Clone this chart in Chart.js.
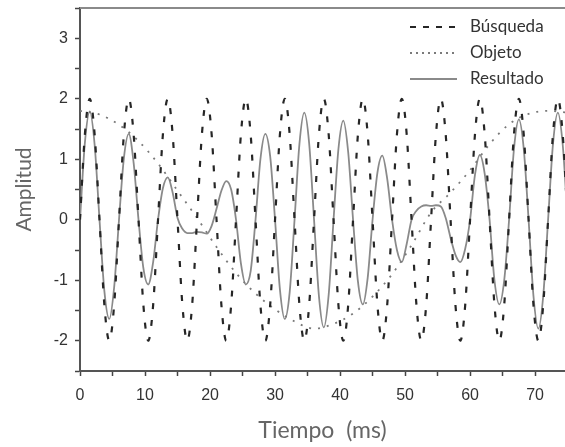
<!DOCTYPE html>
<html><head><meta charset="utf-8">
<script src="https://cdn.jsdelivr.net/npm/chart.js@4.4.1/dist/chart.umd.min.js"></script>
<style>html,body{margin:0;padding:0;background:#fff;}#wrap{width:565px;height:447px;}</style>
</head><body><div id="wrap"><canvas id="c" width="565" height="447"></canvas></div>
<script>
// ---- data ----
const tiempo = [0,0.75,1.5,2.25,3,3.75,4.5,5.25,6,6.75,7.5,8.25,9,9.75,10.5,11.25,12,12.75,13.5,14.25,
  15,15.75,16.5,17.25,18,18.75,19.5,20.25,21,21.75,22.5,23.25,24,24.75,25.5,26.25,27,27.75,28.5,29.25,
  30,30.75,31.5,32.25,33,33.75,34.5,35.25,36,36.75,37.5,38.25,39,39.75,40.5,41.25,42,42.75,43.5,44.25,
  45,45.75,46.5,47.25,48,48.75,49.5,50.25,51,51.75,52.5,53.25,54,54.75,55.5,56.25,57,57.75,58.5,59.25,
  60,60.75,61.5,62.25,63,63.75,64.5,65.25,66,66.75,67.5,68.25,69,69.75,70.5,71.25,72,72.75,73.5,74.25,75];
const busqueda = [0,1.41,2,1.41,0,-1.41,-2,-1.41, 0,1.41,2,1.41,0,-1.41,-2,-1.41,
  0,1.41,2,1.41,0,-1.41,-2,-1.41, 0,1.41,2,1.41,0,-1.41,-2,-1.41,
  0,1.41,2,1.41,0,-1.41,-2,-1.41, 0,1.41,2,1.41,0,-1.41,-2,-1.41,
  0,1.41,2,1.41,0,-1.41,-2,-1.41, 0,1.41,2,1.41,0,-1.41,-2,-1.41,
  0,1.41,2,1.41,0,-1.41,-2,-1.41, 0,1.41,2,1.41,0,-1.41,-2,-1.41,
  0,1.41,2,1.41,0,-1.41,-2,-1.41, 0,1.41,2,1.41,0,-1.41,-2,-1.41,
  0,1.41,2,1.41,0];
const resultado = [0,1.27,1.79,1.24,0,-1.18,-1.64,-1.12,0,1.02,1.42,0.94,0,-0.80,-1.07,-0.70,
  0,0.52,0.70,0.45,0.03,-0.15,-0.22,-0.22,-0.20,-0.21,-0.23,-0.10,0.18,0.48,0.64,0.50,
  0,-0.72,-1.07,-0.85,0,1.00,1.42,1.05,0,-1.15,-1.64,-1.20,0,1.25,1.77,1.26,
  0,-1.26,-1.78,-1.24,0,1.17,1.64,1.12,0,-1.02,-1.40,-0.96,0,0.78,1.06,0.68,
  0,-0.50,-0.70,-0.40,0.00,0.15,0.22,0.24,0.23,0.24,0.22,0.03,-0.30,-0.58,-0.70,-0.48,
  0,0.74,1.07,0.76,0,-1.00,-1.40,-1.00,0,1.17,1.66,1.18,0,-1.26,-1.80,-1.26,
  0,1.25,1.77,1.24,0];
const objetoT = [0,3,6,9,12,15,18,21,24,27,30,33,36,39,42,45,48,51,54,57,60,63,66,69,72,75];
const objeto  = [1.80,1.74,1.57,1.30,0.93,0.48,0.03,-0.45,-0.88,-1.22,-1.48,-1.68,-1.80,-1.72,-1.55,-1.27,
  -0.90,-0.42,0.12,0.45,0.82,1.25,1.58,1.75,1.80,1.77];
const seriesNames = ['Búsqueda','Objeto','Resultado'];
const xTickLabels = [0,10,20,30,40,50,60,70];
const yTickLabels = [-2,-1,0,1,2,3];
const xTitle = 'Tiempo  (ms)';
const yTitle = 'Amplitud';

const pts = (xs, ys) => xs.map((x, i) => ({x: x, y: ys[i]}));

const legendDash = [[6,7],[2,4],[]];

const framePlugin = {
  id: 'frame',
  afterDraw(chart) {
    const {ctx, chartArea: a} = chart;
    ctx.save();
    ctx.strokeStyle = '#8a8a8a';
    ctx.lineWidth = 2;
    ctx.beginPath();
    ctx.moveTo(a.left, a.top);
    ctx.lineTo(a.right, a.top);
    ctx.stroke();
    // legend
    const ds = chart.data.datasets;
    [0,1,2].forEach((i, r) => {
      const d = ds[i];
      const y = a.top + 19 + r * 26;
      ctx.strokeStyle = d.borderColor;
      ctx.lineWidth = d.borderWidth;
      ctx.setLineDash(legendDash[i]);
      ctx.beginPath();
      ctx.moveTo(a.right - 155, y);
      ctx.lineTo(a.right - 108, y);
      ctx.stroke();
      ctx.setLineDash([]);
      ctx.fillStyle = '#333';
      ctx.font = '17px Lato';
      ctx.textBaseline = 'middle';
      ctx.textAlign = 'left';
      ctx.fillText(d.label, a.right - 95, y);
    });
    ctx.restore();
  }
};

new Chart(document.getElementById('c'), {
  type: 'line',
  data: {
    datasets: [
      {label: seriesNames[0], data: pts(tiempo, busqueda), borderColor: '#262626', borderWidth: 2.2,
       borderDash: [6, 11], pointRadius: 0, cubicInterpolationMode: 'monotone', fill: false},
      {label: seriesNames[1], data: pts(objetoT, objeto), borderColor: '#7a7a7a', borderWidth: 1.8,
       borderDash: [2, 7], pointRadius: 0, cubicInterpolationMode: 'monotone', fill: false},
      {label: seriesNames[2], data: pts(tiempo, resultado), borderColor: '#8a8a8a', borderWidth: 1.8,
       pointRadius: 0, cubicInterpolationMode: 'monotone', fill: false}
    ]
  },
  options: {
    responsive: false,
    animation: false,
    devicePixelRatio: 1,
    layout: {padding: {top: 0, right: 0, left: 0, bottom: 0}},
    plugins: {legend: {display: false}, tooltip: {enabled: false}},
    scales: {
      x: {
        type: 'linear', min: 0, max: 74.6, position: 'bottom',
        afterFit(s) { s.height = 76; },
        ticks: {stepSize: 5, includeBounds: false, autoSkip: false, maxRotation: 0,
          callback: (v) => xTickLabels.includes(v) ? String(v) : '',
          color: '#333', font: {family: 'Liberation Sans', size: 16, lineHeight: 1.0}, padding: 12},
        grid: {drawOnChartArea: false, drawTicks: true, tickLength: 5, tickColor: '#444', tickWidth: 1.5},
        border: {display: true, color: '#555', width: 2},
        title: {display: true, text: xTitle, color: '#666', font: {family: 'Lato', size: 23},
          padding: {top: 8, bottom: 3}}
      },
      y: {
        min: -2.5, max: 3.5,
        afterFit(s) { s.width = 80; s.paddingTop = 8; s.paddingBottom = 0; },
        ticks: {stepSize: 0.5, includeBounds: false, autoSkip: false,
          callback: (v) => yTickLabels.includes(v) ? String(v) : '',
          color: '#333', font: {family: 'Liberation Sans', size: 16, lineHeight: 1.0}, padding: 7},
        grid: {drawOnChartArea: false, drawTicks: true, tickLength: 5, tickColor: '#444', tickWidth: 1.5},
        border: {display: true, color: '#555', width: 2},
        title: {display: true, text: yTitle, color: '#666', font: {family: 'Lato', size: 21},
          padding: {top: 12, bottom: 0}}
      }
    }
  },
  plugins: [framePlugin]
});
</script></body></html>
